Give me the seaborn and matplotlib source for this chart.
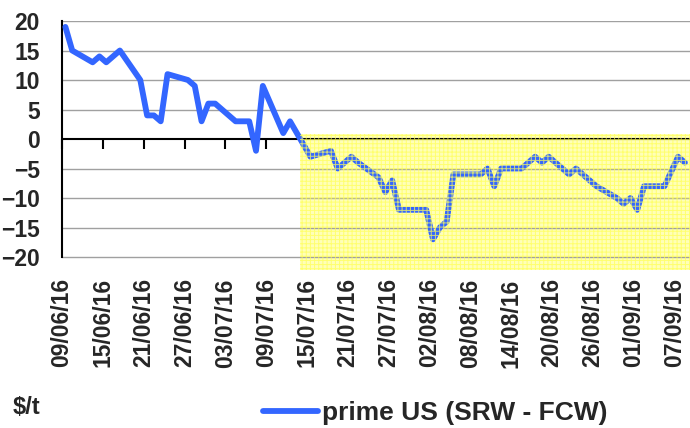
import matplotlib
matplotlib.use("Agg")
import matplotlib.pyplot as plt
import pandas as pd
import seaborn as sns

# Spread prime US (SRW - FCW), $/t, trading days
dates = [
    "09/06/16", "10/06/16", "13/06/16", "14/06/16", "15/06/16", "16/06/16", "17/06/16",
    "20/06/16", "21/06/16", "22/06/16", "23/06/16", "24/06/16", "27/06/16", "28/06/16",
    "29/06/16", "30/06/16", "01/07/16", "04/07/16", "05/07/16", "06/07/16", "07/07/16",
    "08/07/16", "11/07/16", "12/07/16", "13/07/16", "14/07/16", "15/07/16", "18/07/16",
    "19/07/16", "20/07/16", "21/07/16", "22/07/16", "25/07/16", "26/07/16", "27/07/16",
    "28/07/16", "29/07/16", "01/08/16", "02/08/16", "03/08/16", "04/08/16", "05/08/16",
    "08/08/16", "09/08/16", "10/08/16", "11/08/16", "12/08/16", "15/08/16", "16/08/16",
    "17/08/16", "18/08/16", "19/08/16", "22/08/16", "23/08/16", "24/08/16", "25/08/16",
    "26/08/16", "29/08/16", "30/08/16", "31/08/16", "01/09/16", "02/09/16", "05/09/16",
    "06/09/16", "07/09/16", "08/09/16",
]
spread = [
    19, 15, 13, 14, 13, 14, 15,
    10, 4, 4, 3, 11, 10, 9,
    3, 6, 6, 3, 3, 3, -2,
    9, 1, 3, 1, -1, -3, -2,
    -5, -4, -3, -4, -6.5, -9, -7,
    -12, -12, -12, -17, -15, -14, -6,
    -6, -6, -5, -8, -5, -5, -4,
    -3, -4, -3, -6, -5, -6, -7,
    -8, -10, -11, -10, -12, -8, -8,
    -5.5, -3, -4,
]
tick_labels = [
    "09/06/16", "15/06/16", "21/06/16", "27/06/16", "03/07/16", "09/07/16",
    "15/07/16", "21/07/16", "27/07/16", "02/08/16", "08/08/16", "14/08/16",
    "20/08/16", "26/08/16", "01/09/16", "07/09/16",
]
highlight_start = "14/07/16"
series_name = "prime US (SRW - FCW)"

df = pd.DataFrame({
    "date": pd.to_datetime(dates, format="%d/%m/%y") + pd.Timedelta(hours=12),
    "value": spread,
})
ticks = pd.to_datetime(tick_labels, format="%d/%m/%y")

sns.set_theme(style="white")
plt.rcParams["font.family"] = ["Liberation Sans", "DejaVu Sans"]
plt.rcParams["font.weight"] = "bold"
plt.rcParams["hatch.linewidth"] = 0.7

fig = plt.figure(figsize=(6.9, 4.28), dpi=100)
ax = fig.add_axes([62 / 690, 1 - 270 / 428, 1 - 62 / 690, (270 - 21) / 428])

ymin, ymax = -22.2, 20
x0 = pd.Timestamp(2016, 6, 9)
x1 = pd.Timestamp(2016, 9, 9, 6)

# yellow highlighted zone (solid fill under the line, dotted pattern over it)
hx = [pd.to_datetime(highlight_start, format="%d/%m/%y"), x1]
ax.fill_between(hx, ymin, 0.8, color="#ffffb8", linewidth=0, zorder=1)
ax.fill_between(hx, ymin, 0.8, facecolor="none", edgecolor="#ffff55",
                hatch="++++", linewidth=0, zorder=4, alpha=0.75)

for y in range(-20, 21, 5):
    if y != 0:
        ax.axhline(y, color="#a0a0a0", linewidth=1, zorder=2)
ax.axhline(0, color="black", linewidth=1.5, zorder=3)

sns.lineplot(data=df, x="date", y="value", ax=ax, color="#3366ff",
             linewidth=4.2, label=series_name, zorder=3,
             solid_joinstyle="round", solid_capstyle="round")

ax.set_xlim(x0, x1)
ax.set_ylim(ymin, ymax)
ax.set_yticks(range(-20, 21, 5))
ax.set_xticks(ticks)
ax.set_xticklabels(tick_labels, rotation=90, fontsize=16.5, fontweight="bold")
ax.tick_params(axis="x", length=0, pad=6)
ax.tick_params(axis="y", length=4, width=1.5, color="black", direction="out",
               labelsize=16.5, pad=12)
for lab in ax.get_yticklabels():
    lab.set_fontweight("bold")
ax.set_xlabel("")
ax.set_ylabel("")

for s in ["top", "right", "bottom"]:
    ax.spines[s].set_visible(False)
ax.spines["left"].set_color("black")
ax.spines["left"].set_linewidth(1.5)
ax.spines["left"].set_bounds(-20, 20)

# tick marks sitting on the zero line
zero_ax = ax.secondary_xaxis((0 - ymin) / (ymax - ymin))
zero_ax.set_xticks(ticks)
zero_ax.tick_params(axis="x", direction="in", length=7, width=1.5,
                    color="black", labelbottom=False, labeltop=False)
zero_ax.spines["bottom"].set_visible(False)
zero_ax.spines["top"].set_visible(False)

leg = ax.legend(loc="center", bbox_to_anchor=(435 / 690, 1 - 413 / 428),
                bbox_transform=fig.transFigure, frameon=False,
                prop={"size": 19, "weight": "bold"}, handlelength=2.1,
                handletextpad=0.15)
fig.text(13 / 690, 1 - 407 / 428, "$/t", fontsize=17, fontweight="bold",
         va="center", ha="left")

fig.savefig("out.png", dpi=100)
